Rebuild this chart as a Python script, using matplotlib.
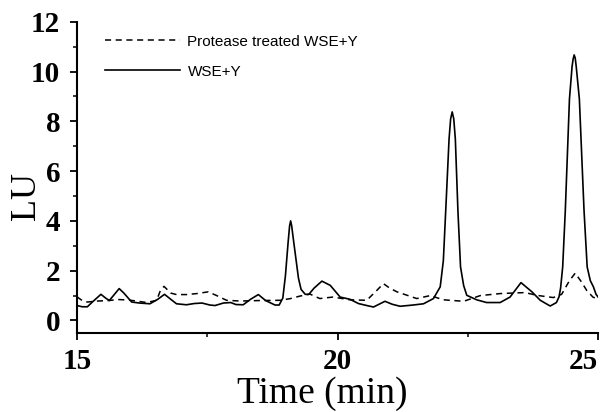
import matplotlib
matplotlib.use("Agg")
import matplotlib.pyplot as plt
from matplotlib.ticker import MultipleLocator

# WSE+Y (solid)
t_wse = [15.0, 15.1, 15.2, 15.3, 15.46, 15.55, 15.62, 15.7, 15.81, 15.9,
         16.05, 16.2, 16.4, 16.55, 16.68, 16.8, 16.91, 17.1, 17.25, 17.4,
         17.55, 17.65, 17.81, 17.95, 18.05, 18.19, 18.33, 18.48, 18.62, 18.8,
         18.88, 18.95, 19.0, 19.05, 19.08, 19.1, 19.12, 19.15, 19.2, 19.25,
         19.3, 19.38, 19.45, 19.55, 19.7, 19.86, 20.05, 20.24, 20.4, 20.56,
         20.69, 20.91, 21.05, 21.2, 21.45, 21.65, 21.84, 21.97, 22.03, 22.08,
         22.14, 22.17, 22.2, 22.23, 22.26, 22.31, 22.36, 22.42, 22.48, 22.67,
         22.86, 23.12, 23.31, 23.52, 23.73, 23.89, 24.08, 24.2, 24.25, 24.28,
         24.32, 24.37, 24.45, 24.5, 24.52, 24.54, 24.56, 24.58, 24.64, 24.73,
         24.79, 24.85, 24.91, 24.96, 25.0]
y_wse = [0.60, 0.55, 0.55, 0.75, 1.05, 0.90, 0.80, 1.00, 1.28, 1.10,
         0.74, 0.70, 0.67, 0.85, 1.05, 0.85, 0.67, 0.63, 0.68, 0.70,
         0.62, 0.60, 0.70, 0.72, 0.64, 0.63, 0.85, 1.04, 0.80, 0.62,
         0.62, 0.90, 1.80, 3.10, 3.80, 4.00, 3.80, 3.30, 2.50, 1.70,
         1.25, 1.05, 1.05, 1.30, 1.58, 1.41, 0.94, 0.85, 0.68, 0.60,
         0.54, 0.77, 0.65, 0.57, 0.62, 0.67, 0.88, 1.35, 2.40, 4.60,
         7.30, 8.10, 8.38, 8.10, 7.30, 4.40, 2.15, 1.40, 1.01, 0.83,
         0.72, 0.72, 0.94, 1.52, 1.15, 0.81, 0.58, 0.72, 0.95, 1.30,
         2.15, 4.40, 8.90, 10.20, 10.50, 10.67, 10.55, 10.20, 8.90, 4.40,
         2.15, 1.60, 1.35, 1.05, 0.94]

# Protease treated WSE+Y (dashed)
t_prot = [15.0, 15.1, 15.2, 15.4, 15.6, 15.8, 16.0, 16.34, 16.53, 16.6,
          16.67, 16.8, 16.91, 17.1, 17.3, 17.52, 17.68, 17.87, 18.13, 18.5,
          18.9, 19.1, 19.28, 19.47, 19.66, 19.91, 20.24, 20.56, 20.75, 20.88,
          21.0, 21.14, 21.52, 21.78, 22.03, 22.42, 22.74, 23.12, 23.35, 23.6,
          23.82, 24.14, 24.3, 24.45, 24.56, 24.68, 24.78, 24.9, 25.0]
y_prot = [0.95, 0.80, 0.74, 0.78, 0.80, 0.84, 0.82, 0.72, 0.81, 1.20,
          1.37, 1.10, 1.04, 1.04, 1.08, 1.15, 1.00, 0.81, 0.78, 0.80,
          0.81, 0.88, 0.98, 1.06, 0.88, 0.94, 0.83, 0.81, 1.20, 1.48,
          1.30, 1.15, 0.88, 1.00, 0.83, 0.77, 1.00, 1.08, 1.10, 1.12,
          1.01, 0.92, 1.05, 1.60, 1.90, 1.55, 1.21, 0.94, 0.85]

fig = plt.figure(figsize=(6.06, 4.12), dpi=100)
ax = fig.add_axes([0.127, 0.192, 0.860, 0.755])

ax.plot(t_prot, y_prot, color="black", linewidth=1.1, dashes=(4, 3),
        label="Protease treated WSE+Y")
ax.plot(t_wse, y_wse, color="black", linewidth=1.2, label="WSE+Y")

ax.set_xlim(15, 25)
ax.set_ylim(-0.5, 12)
ax.set_xticks([15, 20, 25])
ax.set_yticks([0, 2, 4, 6, 8, 10, 12])
ax.xaxis.set_minor_locator(MultipleLocator(2.5))
ax.yaxis.set_minor_locator(MultipleLocator(1))

for s in ["top", "right"]:
    ax.spines[s].set_visible(False)
for s in ["left", "bottom"]:
    ax.spines[s].set_linewidth(1.5)

ax.tick_params(which="major", direction="out", length=5, width=1.3)
ax.tick_params(axis="y", which="major", pad=7)
ax.tick_params(axis="x", which="major", pad=6)
ax.tick_params(which="minor", direction="out", length=3, width=1.1)
for lab in ax.get_xticklabels() + ax.get_yticklabels():
    lab.set_fontfamily("Liberation Serif")
    lab.set_fontweight("bold")
    lab.set_fontsize(21)
ax.get_xticklabels()[-1].set_horizontalalignment("right")

ax.set_xlabel("Time (min)", fontfamily="Liberation Serif", fontsize=27,
              va="baseline", ha="center")
ax.set_ylabel("LU", fontfamily="Liberation Serif", fontsize=26,
              va="baseline", ha="center", rotation_mode="anchor")
ax.xaxis.set_label_coords(0.470, -0.226)
ax.yaxis.set_label_coords(-0.081, 0.44)

ax.legend(loc="upper left", bbox_to_anchor=(0.042, 0.978), frameon=False,
          prop={"family": "Liberation Sans", "size": 11}, handlelength=4.9,
          handletextpad=0.5, labelspacing=1.05, borderaxespad=0)

fig.savefig("out.png", dpi=100)
